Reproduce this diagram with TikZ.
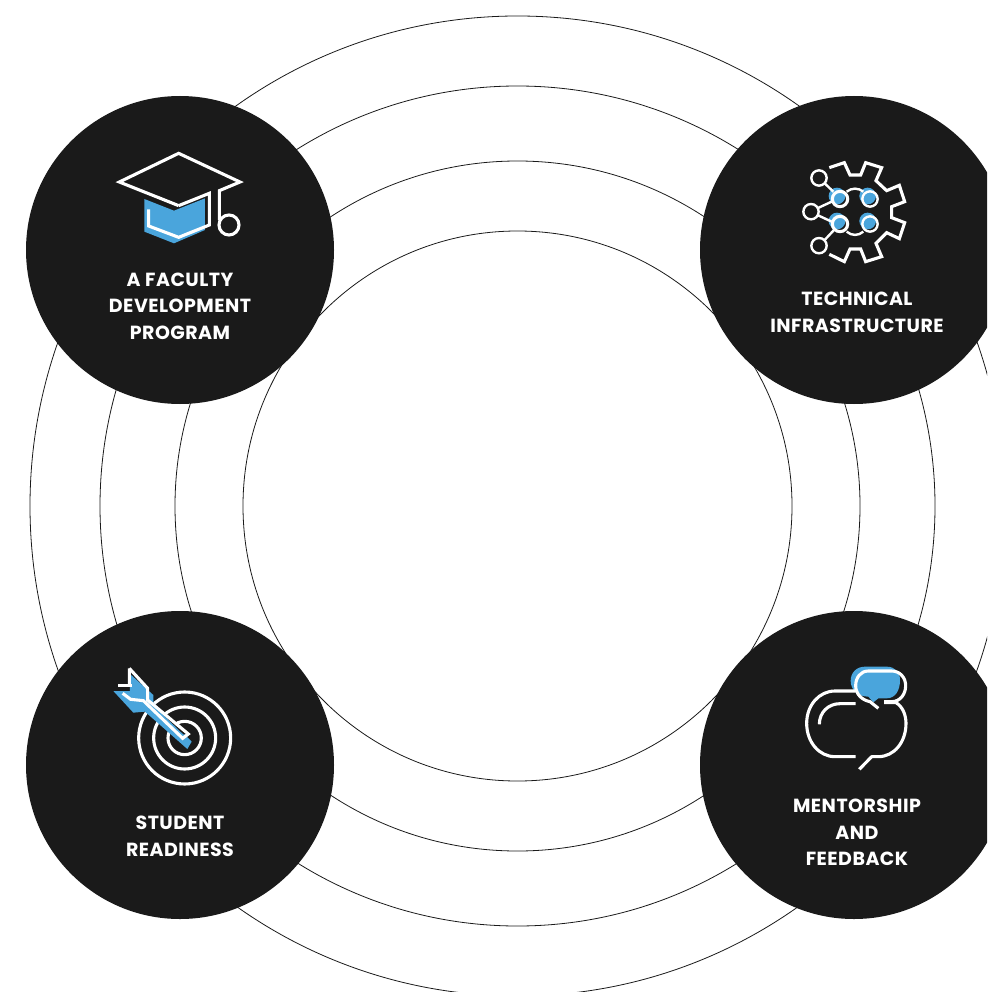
\documentclass[tikz,border=0pt]{standalone}
\usepackage{fontspec}
\setmainfont{Poppins}[BoldFont={Poppins Bold},LetterSpace=2.5]
\definecolor{ink}{HTML}{1A1A1A}
\definecolor{sky}{HTML}{4AA5DC}
\tikzset{
  ring/.style={draw=ink,line width=0.8pt,fill=none},
  disc/.style={fill=ink,draw=none},
  wl/.style={draw=white,line width=3.1pt,line join=miter},
  wlr/.style={draw=white,line width=3.1pt,line join=round},
  wt/.style={draw=white,line width=2.4pt},
  bl/.style={fill=sky,draw=none},
  lbl/.style={text=white,font=\fontsize{19}{26.6}\selectfont\bfseries,align=center,inner sep=0pt}
}
\begin{document}
\begin{tikzpicture}[x=1pt,y=-1pt]
\useasboundingbox (0,0) rectangle (987,992);
\clip (0,0) rectangle (987,992);
\draw[ring] (517.5,506) circle[x radius=274.5,y radius=275];
\draw[ring] (517.5,506) circle[x radius=342.5,y radius=345];
\draw[ring] (517.5,506) circle[x radius=417.5,y radius=420];
\draw[ring] (517.5,506) circle[x radius=487.5,y radius=490];
\foreach \p in {(180,250),(854,250),(180,765),(854,765)} \fill[disc] \p circle[radius=154];
% cap
\begin{scope}[shift={(100,140)},x=0.3333pt,y=-0.3333pt]
\fill[bl] (133,177)--(222,212)--(315,175)--(315,270)--(222,310)--(133,275)--cycle;
\draw[wl] (236,197)--(58,126)--(236,40)--(420,126)--(358,152)--(358,240);
\draw[wl] (236,197)--(328,160)--(328,255)--(236,292)--(146,258)--(146,208);
\draw[wl] (387,255) circle[radius=30];
\end{scope}
% gear
\begin{scope}[shift={(790,150)},x=0.3333pt,y=-0.3333pt]
\draw[wl] (118,53)--(163,38)--(180,75)--(212,75)--(227,38)--(275,53)--(258,92)--(290,122)--(328,106)--(344,155)--(305,170)--(305,203)--(344,218)--(328,266)--(290,248)--(258,280)--(275,320)--(227,335)--(212,297)--(180,297)--(163,335)--(118,313);
\foreach \x/\y in {141/138,233/138,141/213,233/213} \fill[bl] (\x,\y) circle[radius=25];
\foreach \x/\y in {150/147,150/222} \draw[wl] (\x,\y) circle[radius=23];
\foreach \x/\y in {240/147,240/222} \draw[wt] (\x,\y) circle[radius=23];
\foreach \x/\y in {87/84,63/185,87/287} \draw[wt] (\x,\y) circle[radius=23];
\draw[wt] (104,100)--(130,125) (84,174)--(125,155) (84,196)--(125,215) (104,270)--(132,240);
\draw[wt] (170,125) .. controls (185,113) and (205,113) .. (220,125);
\draw[wt] (170,245) .. controls (185,258) and (205,258) .. (220,245);
\end{scope}
% target
\begin{scope}[shift={(100,660)},x=0.3333pt,y=-0.3333pt]
\foreach \r in {138,93,50} \draw[wl] (254,234) circle[radius=\r];
\fill[bl] (40,93)--(90,93)--(88,40)--(160,105)--(160,128)--(275,245)--(262,267)--(135,155)--(100,158)--cycle;
\draw[draw=ink,line width=1.3pt] (165,138)--(252,222);
\draw[wl] (55,77)--(95,77);
\draw[wl] (88,25)--(88,72) (88,25)--(143,85)--(143,120)--(265,222)--(248,235)--(130,122)--(92,118)--(68,100);
\end{scope}
% speech
\begin{scope}[shift={(790,655)},x=0.3333pt,y=-0.3333pt]
\fill[bl] (182,78) .. controls (182,52) and (200,35) .. (225,35) -- (290,35) .. controls (315,35) and (330,52) .. (330,75) .. controls (330,108) and (315,130) .. (290,130) -- (265,130) -- (250,142) -- (235,125) .. controls (205,125) and (182,105) .. (182,78) -- cycle;
\draw[wlr,line cap=butt] (197,108) -- (135,108) .. controls (88,108) and (50,150) .. (50,205) .. controls (50,262) and (88,305) .. (135,305) -- (197,305);
\draw[wlr] (208,343) -- (245,305) -- (265,305) .. controls (312,305) and (348,262) .. (348,205) .. controls (348,180) and (338,155) .. (318,143) -- (282,143);
\draw[wlr,line cap=butt] (197,146) -- (150,146) .. controls (115,146) and (88,172) .. (88,208);
\draw[wlr] (265,160) -- (240,140) .. controls (215,135) and (197,117) .. (197,92) .. controls (197,68) and (212,48) .. (235,48) -- (305,48) .. controls (330,48) and (347,68) .. (347,92) .. controls (347,118) and (330,140) .. (305,140) -- (282,140);
\end{scope}
\node[lbl] (faculty) at (180,306) {A FACULTY\\DEVELOPMENT\\PROGRAM};
\node[lbl] (tech) at (857,312.5) {TECHNICAL\\INFRASTRUCTURE};
\node[lbl] (student) at (180,836) {STUDENT\\READINESS};
\node[lbl] (mentor) at (857,832.5) {MENTORSHIP\\AND\\FEEDBACK};
\end{tikzpicture}
\end{document}
